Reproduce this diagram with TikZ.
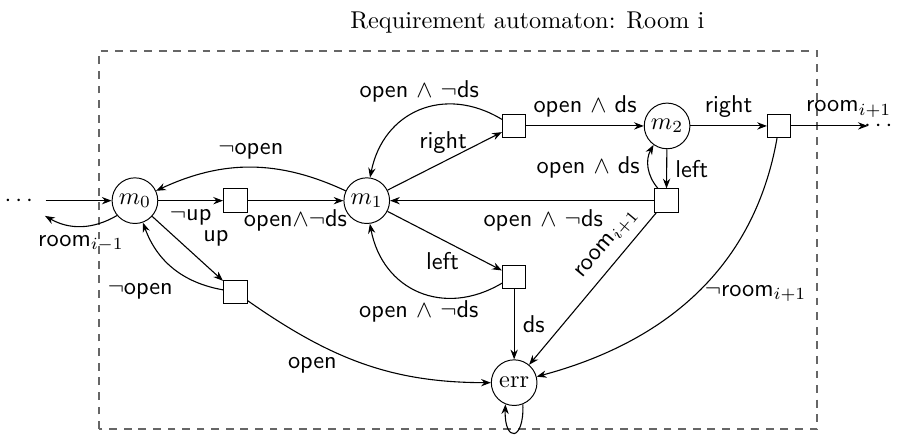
\documentclass[tikz,border=0pt]{standalone}
\usepackage{amsmath,amssymb}
\usepackage{xcolor}
\usepackage{tikz}
\usetikzlibrary{arrows.meta}
\definecolor{roomgray}{HTML}{666666}
\tikzset{
  loc/.style={circle, draw, minimum size=0.66cm, inner sep=0pt},
  guard/.style={rectangle, draw, minimum size=0.34cm, inner sep=0pt},
  trans/.style={-{Stealth[length=4pt,width=3pt]}, line width=0.45pt},
  lab/.style={font=\sffamily},
  roomline/.style={draw=roomgray, line width=0.7pt, dash pattern=on 3.2pt off 2.8pt},
}

\begin{document}
\begin{tikzpicture}
  \useasboundingbox (0,0) rectangle (13.107,6.30);
  % boundary of the room
  \draw[roomline] (1.43,0.10) rectangle (11.81,5.56);
  \node (title) at (7.62,5.98) {Requirement automaton: Room i};

  % locations
  \node[loc] (m0) at (1.95,3.40) {$m_0$};
  \node[loc] (m1) at (5.30,3.40) {$m_1$};
  \node[loc] (m2) at (9.64,4.48) {$m_2$};
  \node[loc] (err) at (7.43,0.77) {$\mathrm{err}$};
  % guard checks
  \node[guard] (ga) at (3.40,3.40) {};
  \node[guard] (gb) at (3.40,2.08) {};
  \node[guard] (gt) at (7.43,4.48) {};
  \node[guard] (gl) at (7.43,2.30) {};
  \node[guard] (gd) at (9.63,3.40) {};
  \node[guard] (gr) at (11.26,4.48) {};
  % neighbouring rooms
  \node (prevdots) at (0.30,3.40) {$\cdots$};
  \node (nextdots) at (12.72,4.48) {$\cdots$};
  \coordinate (prevroom) at (0.65,3.18);
  \coordinate (nextroom) at (12.54,4.48);

  \draw[trans] (prevdots) -- (m0);
  \draw[trans] (m0) to[bend left=30] node[lab,below]{room$_{i-1}$} (prevroom);
  \draw[trans] (m0) -- node[lab,below]{$\neg$up} (ga);
  \draw[trans] (ga) -- node[lab,below]{open$\wedge\neg$ds} (m1);
  \draw[trans] (m1) to[bend right=25] node[lab,above]{$\neg$open} (m0);
  \draw[trans] (m0) -- node[lab,above right,pos=0.6]{up} (gb);
  \draw[trans] (gb) to[out=170,in=-70] node[lab,below left,pos=0.4]{$\neg$open} (m0);
  \draw[trans] (gb) to[out=-35,in=180] node[lab,below left,inner sep=1pt,pos=0.4]{open} (err);

  \draw[trans] (m1) -- node[lab,anchor=base east,inner sep=1pt,pos=0.72]{right} (gt);
  \draw[trans] (gt) to[bend right=55,looseness=1.2] node[lab,above]{open $\wedge$ $\neg$ds} (m1);
  \draw[trans] (m1) -- node[lab,anchor=north east,inner sep=1pt,pos=0.65]{left} (gl);
  \draw[trans] (gl) to[bend left=55,looseness=1.2] node[lab,below]{open $\wedge$ $\neg$ds} (m1);
  \draw[trans] (gl) -- node[lab,right]{ds} (err);

  \draw[trans] (gt) -- node[lab,above]{open $\wedge$ ds} (m2);
  \draw[trans] (m2) -- node[lab,above]{right} (gr);
  \draw[trans] (m2) -- node[lab,right]{left} (gd);
  \draw[trans] (gd) to[bend left=35] node[lab,left]{open $\wedge$ ds} (m2);
  \draw[trans] (gd) -- node[lab,below,pos=0.42]{open $\wedge$ $\neg$ds} (m1);
  \draw[trans] (gd) -- node[lab,above,sloped,pos=0.28]{room$_{i+1}$} (err);
  \draw[trans] (gr) to[out=-100,in=15] node[lab,right]{$\neg$room$_{i+1}$} (err);
  \draw[trans] (gr) -- node[lab,above,pos=0.75]{room$_{i+1}$} (nextroom);

  \draw[trans] (err.-68) .. controls +(-88:0.55) and +(-92:0.55) .. (err.-112);
\end{tikzpicture}
\end{document}
